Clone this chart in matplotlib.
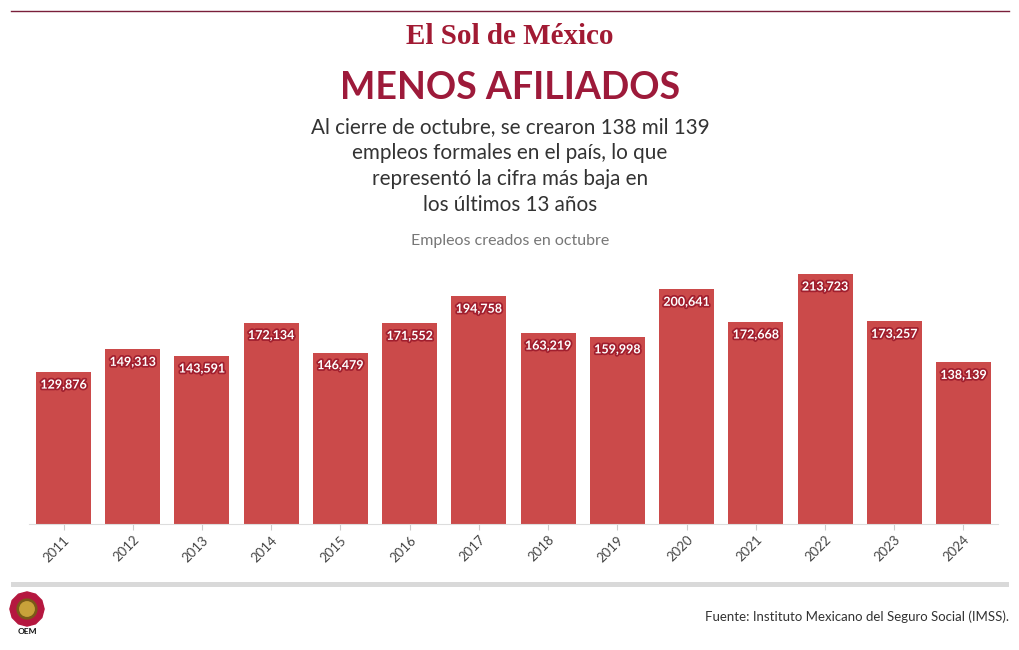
import matplotlib.pyplot as plt
import matplotlib.patheffects as pe
from matplotlib.lines import Line2D
from matplotlib.patches import Circle, Rectangle, RegularPolygon

# Datos
years = ["2011", "2012", "2013", "2014", "2015", "2016", "2017",
         "2018", "2019", "2020", "2021", "2022", "2023", "2024"]
empleos = [129876, 149313, 143591, 172134, 146479, 171552, 194758,
           163219, 159998, 200641, 172668, 213723, 173257, 138139]

bar_color = "#cb4a4a"
halo_color = "#a11f2e"
title_color = "#9d1a3a"

plt.rcParams['font.family'] = ['Lato', 'DejaVu Sans']

fig = plt.figure(figsize=(10.2, 6.5), dpi=100)
W, H = 1020, 650

def fx(px):
    return px / W

def fy(py):
    return 1 - py / H

# top rule
fig.add_artist(Line2D([fx(11), fx(1009)], [fy(11), fy(11)], color="#7a1f3a", lw=1.0))

# masthead
fig.text(0.5, fy(36), "El Sol de México", ha="center", va="center",
         fontsize=21, fontweight="bold", color="#a11a33", family="Liberation Serif")

# title and subtitle
fig.text(0.5, fy(88), "MENOS AFILIADOS", ha="center", va="center",
         fontsize=27, fontweight="bold", color=title_color)
subtitle = ["Al cierre de octubre, se crearon 138 mil 139",
            "empleos formales en el país, lo que",
            "representó la cifra más baja en",
            "los últimos 13 años"]
for i, line in enumerate(subtitle):
    fig.text(0.5, fy(127 + 26 * i), line, ha="center", va="center",
             fontsize=14.9, color="#333333")

fig.text(0.5, fy(241), "Empleos creados en octubre", ha="center", va="center",
         fontsize=11.5, color="#777777")

# chart
left, right = 28.9, 998.1
ymax = 220000
top_px = 524 - ymax * 250 / 213723
ax = fig.add_axes([fx(left), fy(524), fx(right - left), (524 - top_px) / H])
x = range(len(years))
bars = ax.bar(x, empleos, width=0.795, color=bar_color)
ax.set_xlim(-0.5, len(years) - 0.5)
ax.set_ylim(0, ymax)
ax.set_yticks([])
for s in ["top", "right", "left"]:
    ax.spines[s].set_visible(False)
ax.spines["bottom"].set_color("#dddddd")
ax.set_xticks(list(x))
ax.set_xticklabels(years, rotation=45, ha="right", rotation_mode="anchor",
                   fontsize=9.5, color="#444444")
ax.tick_params(axis="x", length=4, color="#cccccc", pad=3)

for xi, v in zip(x, empleos):
    ax.annotate(f"{v:,}", (xi, v), xytext=(0, -9), textcoords="offset points",
                ha="center", va="center", fontsize=9, fontweight="bold",
                color="white",
                path_effects=[pe.withStroke(linewidth=2.5, foreground=halo_color)])

# bottom grey rule
fig.add_artist(Rectangle((fx(11), fy(587)), fx(998), 5 / H, color="#d9d9d9",
                         transform=fig.transFigure, lw=0))

# source
fig.text(fx(1009), fy(617), "Fuente: Instituto Mexicano del Seguro Social (IMSS).",
         ha="right", va="center", fontsize=9.5, color="#333333")

# OEM logo (approximation)
lax = fig.add_axes([fx(9), fy(627), fx(36), 36 / H])
lax.set_xlim(-1, 1)
lax.set_ylim(-1, 1)
lax.set_aspect("equal")
lax.axis("off")
lax.add_patch(RegularPolygon((0, 0), numVertices=12, radius=0.95, color="#b5173f"))
lax.add_patch(Circle((0, 0), 0.55, color="#7a5a18"))
lax.add_patch(Circle((0, 0), 0.4, color="#c9a23a"))
fig.text(fx(27), fy(632), "OEM", ha="center", va="center", fontsize=6,
         fontweight="bold", color="#111111")

fig.savefig("out.png", dpi=100)
